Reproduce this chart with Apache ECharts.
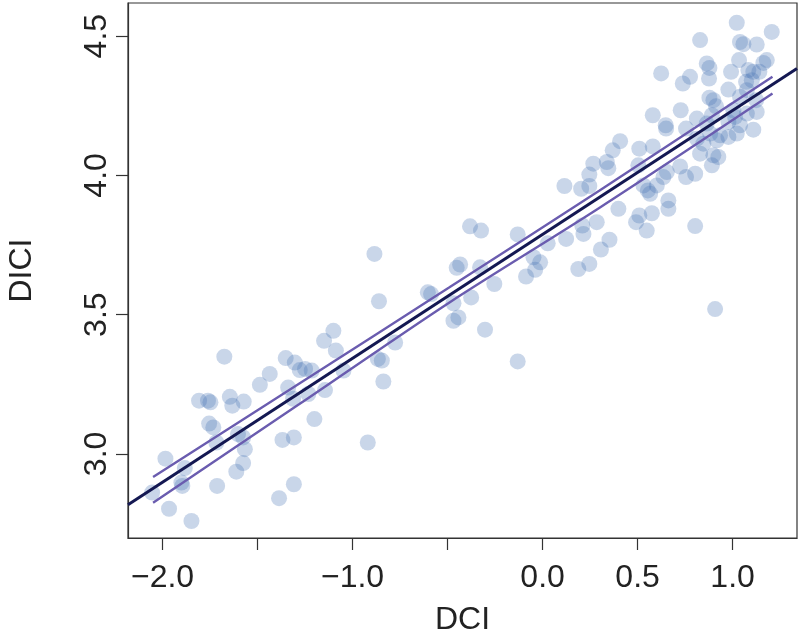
<!DOCTYPE html>
<html>
<head>
<meta charset="utf-8">
<script src="https://cdn.jsdelivr.net/npm/echarts@6/dist/echarts.min.js"></script>
<style>
  html, body { margin: 0; padding: 0; background: #fff; }
  #chart { width: 800px; height: 636px; }
</style>
</head>
<body>
<div id="chart"></div>
<script>
// ---- data ----
const dci = [
  -1.675,-1.352,-1.304,-1.278,-1.436,-1.488,-1.808,-1.761,-1.748,-1.646,-1.633,-1.573,-1.339,-1.313,-1.755,-1.733,-1.603,-1.576,-1.567,-1.576,-1.612,-1.717,-1.369,-1.309,-1.985,-1.883,-1.901,-1.896,-2.055,-1.713,-1.309,-1.387,-1.966,-1.848,
  -0.885,-0.861,-0.604,-0.587,-1.101,-1.150,-1.088,-1.250,-1.215,-1.048,-0.776,-0.867,-0.846,-0.838,-1.145,-1.233,-1.201,-0.920,
  0.267,0.246,0.115,0.203,0.246,0.209,0.215,0.285,0.124,-0.382,-0.324,-0.131,0.027,-0.434,-0.452,-0.329,-0.048,-0.013,-0.039,-0.087,0.188,0.246,0.307,-0.254,-0.376,-0.469,-0.443,-0.469,-0.303,-0.131,
  0.624,0.738,0.776,0.580,0.727,0.648,0.650,0.755,0.812,0.408,0.369,0.509,0.580,0.812,0.338,0.346,0.504,0.724,0.755,0.803,0.654,0.636,0.601,0.531,0.554,0.566,0.662,0.662,0.399,0.575,0.509,0.492,0.548,0.352,0.803,
  1.022,1.206,1.039,1.057,1.127,0.829,0.864,0.878,0.876,1.034,0.992,1.162,1.083,1.109,1.141,1.101,1.071,0.978,0.878,0.899,0.913,1.039,1.075,1.124,1.127,1.075,1.013,0.978,1.039,1.109,0.891,0.864,0.882,0.934,0.978,0.846,0.917,1.022,0.829,0.899,0.925,1.004,1.180,0.891,0.908
];
const dici = [
  3.349,3.344,3.328,3.301,3.287,3.248,3.191,3.191,3.185,3.205,3.173,3.188,3.238,3.198,3.109,3.095,3.071,3.059,3.017,2.967,2.936,3.041,3.050,3.059,2.983,2.949,2.897,2.885,2.861,2.885,2.891,2.841,2.803,2.759,
  3.718,3.548,3.580,3.574,3.442,3.406,3.371,3.305,3.299,3.299,3.400,3.341,3.335,3.260,3.229,3.215,3.125,3.041,
  4.042,4.003,3.962,3.952,3.962,3.820,3.790,3.832,3.772,3.817,3.802,3.788,3.756,3.680,3.668,3.670,3.706,3.688,3.661,3.637,3.664,3.682,3.734,3.610,3.562,3.541,3.490,3.478,3.446,3.332,
  4.366,4.330,4.354,4.216,4.234,4.180,4.168,4.168,4.204,4.123,4.090,4.096,4.104,4.132,4.048,4.026,4.036,4.032,3.994,4.006,4.012,3.994,3.964,3.964,3.946,3.934,3.910,3.880,3.880,3.864,3.856,3.832,3.802,3.769,3.818,
  4.548,4.515,4.479,4.471,4.470,4.486,4.402,4.386,4.348,4.414,4.372,4.404,4.378,4.372,4.372,4.342,4.336,4.308,4.279,4.270,4.248,4.282,4.306,4.270,4.228,4.222,4.210,4.192,4.180,4.164,4.216,4.186,4.150,4.144,4.138,4.114,4.126,4.150,4.078,4.072,4.066,4.234,4.414,4.036,3.520
];
// fitted line (spans whole plot)
const fitX = [-2.182, 1.339];
const fitY = [2.817, 4.384];
// upper and lower purple lines
const upperX = [-2.05, -1.28, -0.49, 0.30, 1.21];
const upperY = [2.917, 3.253, 3.598, 3.946, 4.354];
const lowerX = [-2.05, -1.28, -0.49, 0.30, 1.21];
const lowerY = [2.825, 3.179, 3.544, 3.884, 4.294];
// axes
const xTicks = [-2, -1.5, -1, -0.5, 0, 0.5, 1];
const xLabels = [-2, -1, 0, 0.5, 1];
const yTicks = [3, 3.5, 4, 4.5];

const pair = (xs, ys) => xs.map((v, i) => [v, ys[i]]);
const fmt = v => (v < 0 ? '\u2212' : '') + Math.abs(v).toFixed(1);
const FONT = '"Liberation Sans", Arial, Helvetica, sans-serif';

const chart = echarts.init(document.getElementById('chart'), null, { renderer: 'canvas' });
chart.setOption({
  animation: false,
  backgroundColor: '#ffffff',
  grid: {
    left: 128, right: 3, top: 3, bottom: 98,
    outerBoundsMode: 'none', containLabel: false,
    show: true, borderColor: '#333333', borderWidth: 1.2, backgroundColor: 'transparent'
  },
  xAxis: {
    type: 'value',
    min: -2.182, max: 1.339,
    name: 'DCI', nameLocation: 'middle', nameGap: 66,
    nameTextStyle: { fontFamily: FONT, fontSize: 32, color: '#222' },
    axisLine: { show: true, onZero: false, lineStyle: { color: '#333', width: 1.2 } },
    axisTick: { show: true, length: 12, customValues: xTicks, lineStyle: { color: '#333', width: 1.2 } },
    axisLabel: { customValues: xLabels, formatter: fmt, margin: 24, fontFamily: FONT, fontSize: 32, color: '#222' },
    splitLine: { show: false }
  },
  yAxis: {
    type: 'value',
    min: 2.698, max: 4.619,
    name: 'DICI', nameLocation: 'middle', nameGap: 90, nameRotate: 90,
    nameTextStyle: { fontFamily: FONT, fontSize: 32, color: '#222' },
    axisLine: { show: true, onZero: false, lineStyle: { color: '#333', width: 1.2 } },
    axisTick: { show: true, length: 12, customValues: yTicks, lineStyle: { color: '#333', width: 1.2 } },
    axisLabel: { customValues: yTicks, formatter: fmt, rotate: 90, margin: 15, fontFamily: FONT, fontSize: 32, color: '#222' },
    splitLine: { show: false }
  },
  series: [
    {
      type: 'scatter',
      data: pair(dci, dici),
      symbol: 'circle', symbolSize: 16,
      itemStyle: { color: 'rgba(70,115,180,0.36)' },
      z: 1
    },
    {
      type: 'line', data: pair(upperX, upperY), symbol: 'none', smooth: 0.3,
      lineStyle: { color: '#6a5caf', width: 2.4 }, z: 3
    },
    {
      type: 'line', data: pair(lowerX, lowerY), symbol: 'none', smooth: 0.3,
      lineStyle: { color: '#6a5caf', width: 2.4 }, z: 3
    },
    {
      type: 'line', data: pair(fitX, fitY), symbol: 'none',
      lineStyle: { color: '#141852', width: 3 }, z: 4
    }
  ]
});
</script>
</body>
</html>
